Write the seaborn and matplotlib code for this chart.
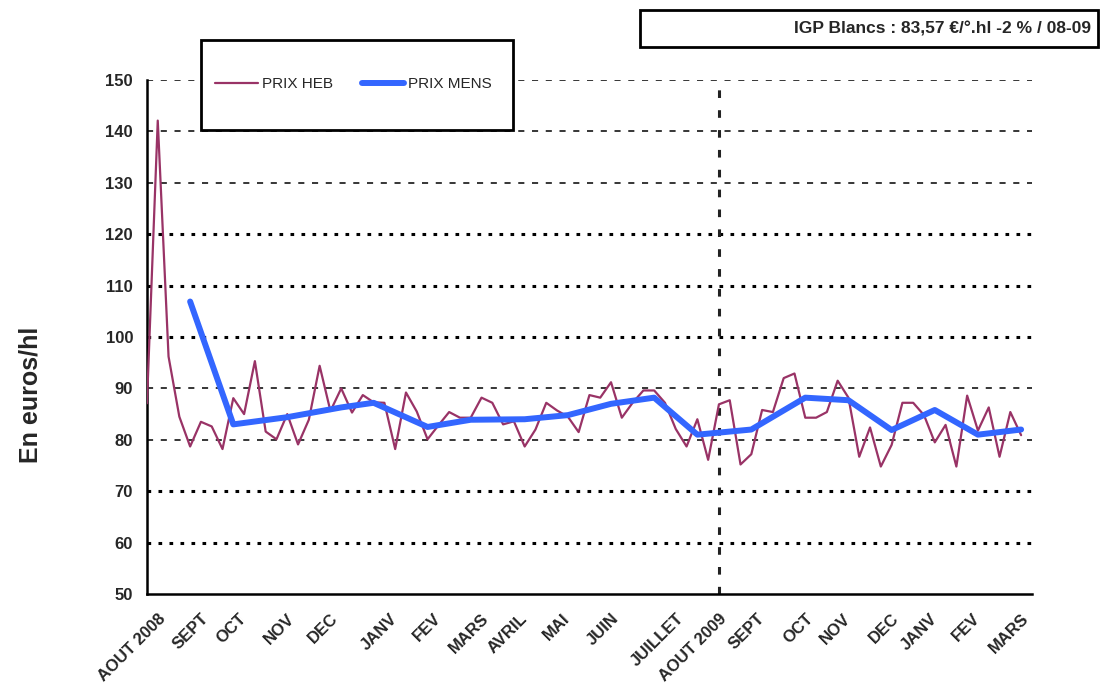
import numpy as np
import pandas as pd
import seaborn as sns
import matplotlib.pyplot as plt
from matplotlib.patches import Rectangle
from matplotlib.lines import Line2D

# weekly price (PRIX HEB), one value per week from Aug 2008 to Mar 2010
prix_heb = [87.1, 142.1, 96.2, 84.5, 78.7, 83.5, 82.6, 78.2, 88.1, 85.0,
            95.3, 81.6, 80.1, 85.0, 79.1, 83.9, 94.4, 85.6, 90.0, 85.3,
            88.7, 87.3, 87.2, 78.2, 89.2, 85.5, 80.1, 82.8, 85.4, 84.3,
            84.3, 88.2, 87.2, 83.0, 83.6, 78.7, 82.0, 87.2, 85.7, 84.5,
            81.5, 88.7, 88.2, 91.2, 84.3, 87.2, 89.6, 89.6, 87.2, 82.1,
            78.7, 84.0, 76.1, 86.9, 87.7, 75.2, 77.2, 85.8, 85.4, 92.0,
            92.9, 84.3, 84.3, 85.4, 91.5, 88.2, 76.7, 82.4, 74.8, 79.0,
            87.2, 87.2, 84.8, 79.5, 82.9, 74.8, 88.6, 81.8, 86.3, 76.7,
            85.4, 80.9]

# monthly average (PRIX MENS) and the week it is plotted on
mens_week = [4, 8, 13, 18, 21, 26, 30, 35, 39, 43, 47, 51, 56, 61, 65, 69, 73, 77, 81]
prix_mens = [106.9, 83.0, 84.4, 86.3, 87.2, 82.5, 83.9, 84.0, 84.8, 87.0,
             88.2, 81.0, 82.0, 88.2, 87.7, 81.9, 85.8, 81.0, 82.0]

# month labels and their week position
mois = ['AOUT 2008', 'SEPT', 'OCT', 'NOV', 'DEC', 'JANV', 'FEV', 'MARS', 'AVRIL',
        'MAI', 'JUIN', 'JUILLET', 'AOUT 2009', 'SEPT', 'OCT', 'NOV', 'DEC',
        'JANV', 'FEV', 'MARS']
mois_week = [1, 5, 8.5, 13, 17, 22.5, 26.5, 31, 34.5, 38.5, 43, 49, 53, 56.5,
             61, 64.5, 69, 72.5, 76.5, 81]

separation_week = 53
titre = 'IGP Blancs : 83,57 €/°.hl -2 % / 08-09'

sns.set_style('white')
plt.rcParams['font.family'] = ['Liberation Sans', 'DejaVu Sans']

heb = pd.DataFrame({'semaine': np.arange(len(prix_heb)), 'prix': prix_heb})
mens = pd.DataFrame({'semaine': mens_week, 'prix': prix_mens})

fig = plt.figure(figsize=(11, 6.86), dpi=100)
ax = fig.add_axes([0.1336, 0.1341, 0.8045, 0.7493])

# horizontal grid, drawn as in the original (some lines heavier)
heavy = {60, 70, 100, 110, 120}
for v in range(60, 151, 10):
    if v in heavy:
        ax.axhline(v, color='black', lw=2.2, ls=(0, (1.2, 2.4)), zorder=1)
    else:
        ax.axhline(v, color='black', lw=1.1, ls=(0, (4, 5)), zorder=1)

ax.axvline(separation_week, color='#222222', lw=2.2, ls=(0, (2.5, 4)), zorder=1)

sns.lineplot(data=heb, x='semaine', y='prix', color='#993366', lw=1.6, ax=ax, zorder=3)
sns.lineplot(data=mens, x='semaine', y='prix', color='#3366FF', lw=4.3, ax=ax,
             zorder=4, solid_capstyle='round')

ax.set_xlim(0, 82)
ax.set_ylim(50, 150)
ax.set_yticks(range(50, 151, 10))
ax.set_xticks(mois_week)
ax.set_xticklabels(mois, rotation=45, ha='right', rotation_mode='anchor',
                   fontsize=12, fontweight='bold')
ax.set_xticks(np.arange(0, 83), minor=True)
ax.tick_params(axis='x', which='major', length=0, pad=12)
ax.tick_params(axis='x', which='minor', length=8, width=1.3, direction='inout', color='black')
ax.tick_params(axis='y', length=8, width=1.5, direction='inout', color='black',
               labelsize=12, pad=6)
for lab in ax.get_yticklabels():
    lab.set_fontweight('bold')

ax.set_xlabel('')
ax.set_ylabel('')
sns.despine(ax=ax)
for side in ['left', 'bottom']:
    ax.spines[side].set_linewidth(1.8)
    ax.spines[side].set_color('black')

fig.text(0.028, 0.424, 'En euros/hl', rotation=90, ha='center', va='center',
         fontsize=18, fontweight='bold')

# legend box
fig.patches.append(Rectangle((0.1827, 0.810), 0.2836, 0.131, transform=fig.transFigure,
                             fill=True, facecolor='white', edgecolor='black', lw=2,
                             zorder=5))
handles = [Line2D([], [], color='#993366', lw=1.6),
           Line2D([], [], color='#3366FF', lw=4.3, solid_capstyle='round')]
fig.legend(handles, ['PRIX HEB', 'PRIX MENS'], loc='center left', ncol=2,
           bbox_to_anchor=(0.1955, 0.8775), frameon=False, fontsize=11,
           borderpad=0, borderaxespad=0,
           handlelength=2.8, handletextpad=0.25, columnspacing=1.9)

# title box
fig.patches.append(Rectangle((0.582, 0.932), 0.416, 0.053, transform=fig.transFigure,
                             fill=False, edgecolor='black', lw=2))
fig.text(0.992, 0.958, titre, ha='right', va='center', fontsize=12.5, fontweight='bold')

fig.savefig('out.png', dpi=100)
